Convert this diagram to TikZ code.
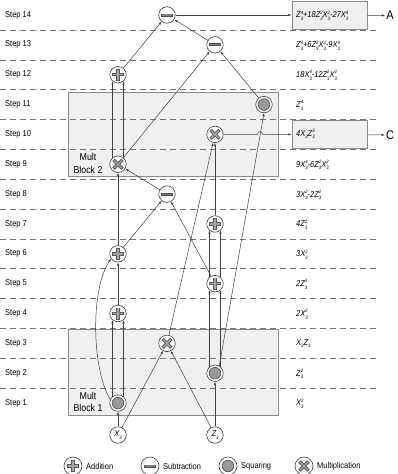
\documentclass[tikz,border=0pt]{standalone}
\usepackage{fontspec}
\setmainfont{Liberation Sans}[FakeStretch=0.88]
\usetikzlibrary{arrows.meta}
\newcommand\scfont{\fontsize{4.8pt}{5pt}\selectfont}
\newcommand\sbsp[2]{\ooalign{\raisebox{-2.8pt}{\scfont #1}\cr\raisebox{3.7pt}{\scfont #2}\cr}}
\newcommand\sbo[1]{\raisebox{-2.4pt}{\scfont #1}}
\tikzset{
  op/.style={circle, draw=black!75, line width=0.6pt, fill=white, minimum size=16.5pt, inner sep=0pt},
  big/.style={minimum size=18pt},
  addn/.style={op, path picture={
      \coordinate (pc) at (path picture bounding box.center);
      \draw[line width=3.4pt, black!65] ([xshift=-6pt]pc) -- ([xshift=6pt]pc) ([yshift=-6pt]pc) -- ([yshift=6pt]pc);
      \draw[line width=1.5pt, black!35] ([xshift=-5.2pt]pc) -- ([xshift=5.2pt]pc) ([yshift=-5.2pt]pc) -- ([yshift=5.2pt]pc);}},
  subn/.style={op, path picture={
      \coordinate (pc) at (path picture bounding box.center);
      \draw[line width=3pt, black!70] ([xshift=-6pt]pc) -- ([xshift=6pt]pc);
      \draw[line width=1.1pt, black!50] ([xshift=-5.3pt]pc) -- ([xshift=5.3pt]pc);}},
  muln/.style={op, path picture={
      \coordinate (pc) at (path picture bounding box.center);
      \draw[line width=3.2pt, black!65] ([shift={(-4.4pt,-4.4pt)}]pc) -- ([shift={(4.4pt,4.4pt)}]pc) ([shift={(-4.4pt,4.4pt)}]pc) -- ([shift={(4.4pt,-4.4pt)}]pc);
      \draw[line width=1.4pt, black!35] ([shift={(-3.8pt,-3.8pt)}]pc) -- ([shift={(3.8pt,3.8pt)}]pc) ([shift={(-3.8pt,3.8pt)}]pc) -- ([shift={(3.8pt,-3.8pt)}]pc);}},
  sqn/.style={op, path picture={
      \coordinate (pc) at (path picture bounding box.center);
      \draw[fill=black!40, draw=black!70, line width=0.6pt] (pc) circle[radius=5.8pt];}},
  inp/.style={op, font=\fontsize{8.5pt}{9pt}\selectfont\itshape},
  e/.style={draw=black!75, line width=0.5pt, -{Latex[length=3.2pt,width=2.4pt]}},
  blk/.style={draw=black!45, line width=0.8pt, fill=black!6},
  exbox/.style={draw=black!45, line width=0.8pt, fill=black!6, minimum width=75pt, minimum height=28pt, inner sep=0pt},
  steplab/.style={anchor=west, inner sep=0pt, font=\fontsize{8.5pt}{9pt}\selectfont},
  extext/.style={anchor=west, inner sep=0pt, font=\fontsize{8.5pt}{9pt}\selectfont\itshape},
  leglab/.style={anchor=west, inner sep=0pt, font=\fontsize{8.5pt}{9pt}\selectfont},
  blklab/.style={align=center, inner sep=0pt, font=\fontsize{10pt}{12.5pt}\selectfont},
  outlab/.style={inner sep=1pt, font=\fontsize{12.5pt}{13pt}\selectfont},
  stepline/.style={draw=black!55, line width=0.7pt, dash pattern=on 6pt off 4pt}
}
\begin{document}
\begin{tikzpicture}[x=1pt,y=-1pt]
\useasboundingbox (0,0) rectangle (397,474);
% grey blocks
\path[blk] (68,92) rectangle (278,176);
\path[blk] (68,329) rectangle (278,415);
\node[exbox] (boxA) at (329.5,15) {};
\node[exbox] (boxC) at (329.5,134.4) {};
% step lines
\foreach \k in {0,...,12} {
  \draw[stepline] (0,30+\k*29.85) -- (377,30+\k*29.85);
}
% step labels
\foreach \k in {1,...,14} {
  \node[steplab] (s\k) at (5,15+14*29.85-\k*29.85) {Step \k};
}
% block labels
\node[blklab] (mb2) at (88,163.5) {Mult\\Block 2};
\node[blklab] (mb1) at (88,402) {Mult\\Block 1};
% expressions
\node[extext] (t14) at (296,15) {Z\sbsp34+18Z\sbsp32X\sbsp32-27X\sbsp34};
\node[extext] (t13) at (296,44.85) {Z\sbsp34+6Z\sbsp32X\sbsp32-9X\sbsp34};
\node[extext] (t12) at (296,74.7) {18X\sbsp34-12Z\sbsp32X\sbsp32};
\node[extext] (t11) at (296,104.55) {Z\sbsp34};
\node[extext] (t10) at (296,134.4) {4X\sbo3Z\sbsp33};
\node[extext] (t9) at (296,164.25) {9X\sbsp34-6Z\sbsp32X\sbsp32};
\node[extext] (t8) at (296,194.1) {3X\sbsp32-2Z\sbsp32};
\node[extext] (t7) at (296,223.95) {4Z\sbsp32};
\node[extext] (t6) at (296,253.8) {3X\sbsp32};
\node[extext] (t5) at (296,283.65) {2Z\sbsp32};
\node[extext] (t4) at (296,313.5) {2X\sbsp32};
\node[extext] (t3) at (296,343.35) {X\sbo3Z\sbo3};
\node[extext] (t2) at (296,373.2) {Z\sbsp32};
\node[extext] (t1) at (296,403.05) {X\sbsp32};
% operation nodes
\node[subn] (n14) at (167,15) {};
\node[subn] (n13) at (215,44.85) {};
\node[addn] (n12) at (118,74.7) {};
\node[sqn]  (n11) at (264,104.55) {};
\node[muln] (n10) at (215,134.4) {};
\node[muln] (n9)  at (118,164.25) {};
\node[subn] (n8)  at (167,194.1) {};
\node[addn] (n7)  at (215,223.95) {};
\node[addn] (n6)  at (118,253.8) {};
\node[addn] (n5)  at (215,283.65) {};
\node[addn] (n4)  at (118,313.5) {};
\node[muln] (n3)  at (167,343.35) {};
\node[sqn]  (n2)  at (215,373.2) {};
\node[sqn]  (n1)  at (118,403.05) {};
\node[inp]  (x3)  at (118,435) {X\sbo3};
\node[inp]  (z3)  at (215,435) {Z\sbo3};
\node[outlab] (A) at (390,15.5) {A};
\node[outlab] (C) at (390,135) {C};
% connectors
\draw[e] (x3) -- (n1);
\draw[e] (z3) -- (n2);
\draw[e] (x3) -- (n3);
\draw[e] (z3) -- (n3);
\draw[e] (n1.130) -- (n4.230);
\draw[e] (n1.50) -- (n4.310);
\draw[e] (n2.130) -- (n5.230);
\draw[e] (n2.50) -- (n5.310);
\draw[e] (n4) -- (n6);
\draw[e] (n1.155) .. controls (92,370) and (90,290) .. (n6.215);
\draw[e] (n5.130) -- (n7.230);
\draw[e] (n5.50) -- (n7.310);
\draw[e] (n6) -- (n8);
\draw[e] (n5) -- (n8);
\draw[e] (n6) -- (n9);
\draw[e] (n8) -- (n9);
\draw[e] (n7) -- (n10);
\draw[e] (n3) -- (n10);
\draw[e] (n2.60) -- (n11.south);
\draw[e] (n9.130) -- (n12.230);
\draw[e] (n9.50) -- (n12.310);
\draw[e] (n11) -- (n13);
\draw[e] (n9) -- (n13);
\draw[e] (n12) -- (n14);
\draw[e] (n13) -- (n14);
\draw[e] (n14) -- (boxA);
\draw[e] (n10) -- (257.5,134.4) .. controls (257.5,130.6) and (262.5,130.6) .. (262.5,134.4) -- (boxC.west);
\draw[e] (boxA) -- (A);
\draw[e] (boxC) -- (C);
% legend
\node[addn,big] (la) at (73,466) {};
\node[leglab] (lat) at (86,466) {Addition};
\node[subn,big] (ls) at (150,466) {};
\node[leglab] (lst) at (163,466) {Subtraction};
\node[sqn,big] (lq) at (228,466) {};
\node[leglab] (lqt) at (241,466) {Squaring};
\node[muln,big] (lm) at (304,466) {};
\node[leglab] (lmt) at (317,466) {Multiplication};
\end{tikzpicture}
\end{document}
